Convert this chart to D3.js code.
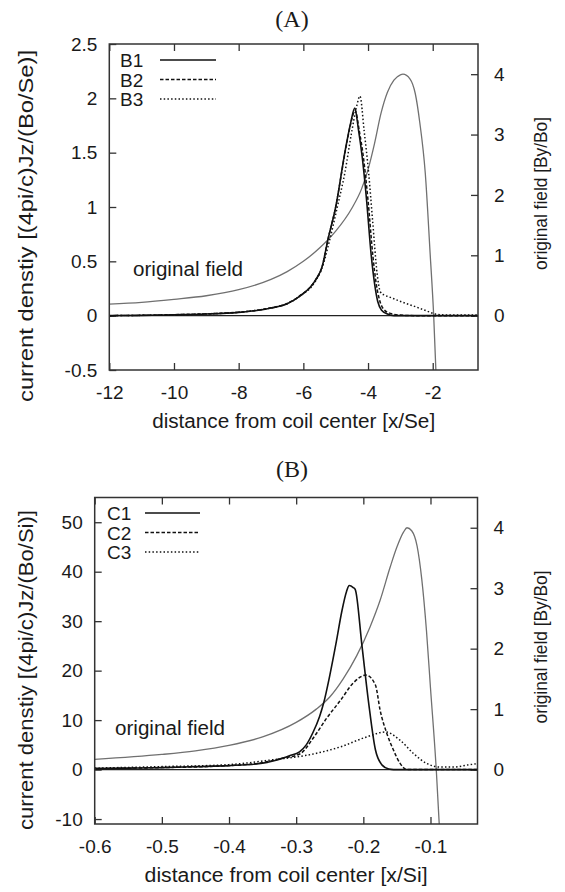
<!DOCTYPE html>
<html>
<head>
<meta charset="utf-8">
<script src="https://cdn.jsdelivr.net/npm/d3@7"></script>
<style>
  body { margin: 0; background: #fff; }
  text { font-family: "Liberation Sans", Arial, sans-serif; fill: #1a1a1a; }
  .title { font-family: "Liberation Serif", "Times New Roman", serif; }
</style>
</head>
<body>
<svg width="565" height="892"></svg>
<script>
'use strict';

// tick values
var xTicksA = [-12, -10, -8, -6, -4, -2],
    yTicksA = [-0.5, 0, 0.5, 1, 1.5, 2, 2.5],
    xTicksB = [-0.6, -0.5, -0.4, -0.3, -0.2, -0.1],
    yTicksB = [-10, 0, 10, 20, 30, 40, 50],
    y2Ticks = [0, 1, 2, 3, 4];

// panel A: original field [By/Bo] (right axis)
var fieldA = [[-12, 0.19], [-11, 0.22], [-10, 0.27], [-9, 0.33], [-8, 0.43], [-7, 0.6],
    [-6.5, 0.73], [-6, 0.9], [-5.5, 1.12], [-5, 1.4], [-4.5, 1.78], [-4.2, 2.1],
    [-4, 2.42], [-3.8, 2.85], [-3.6, 3.35], [-3.4, 3.7], [-3.2, 3.9], [-3.0, 3.99],
    [-2.92, 4.0], [-2.7, 3.92], [-2.54, 3.68], [-2.4, 3.2], [-2.23, 2.36], [-2.08, 1.03],
    [-1.97, 0], [-1.88, -1.2]];

// panel A: current density B1..B3
var b1 = [[-12, 0], [-11, 0.003], [-10, 0.008], [-9, 0.015], [-8, 0.03], [-7.5, 0.045],
    [-7, 0.07], [-6.5, 0.11], [-6.13, 0.175], [-5.62, 0.33], [-5.42, 0.45], [-5.24, 0.7],
    [-5, 1.0], [-4.7, 1.53], [-4.54, 1.77], [-4.41, 1.91], [-4.3, 1.72], [-4.18, 1.46],
    [-4.05, 1.08], [-3.9, 0.55], [-3.8, 0.3], [-3.7, 0.13], [-3.58, 0.05], [-3.4, 0.015],
    [-3.2, 0], [-0.6, 0]];
var b2 = [[-12, 0], [-11, 0.003], [-10, 0.009], [-9, 0.017], [-8, 0.032], [-7.5, 0.047],
    [-7, 0.072], [-6.5, 0.112], [-6.13, 0.178], [-5.62, 0.33], [-5.42, 0.45], [-5.24, 0.7],
    [-5, 1.0], [-4.7, 1.52], [-4.54, 1.76], [-4.4, 1.89], [-4.27, 1.7], [-4.14, 1.45],
    [-4.0, 1.06], [-3.85, 0.55], [-3.75, 0.3], [-3.64, 0.14], [-3.52, 0.06], [-3.3, 0.02],
    [-3.0, 0.005], [-2.5, 0], [-0.6, 0]];
var b3 = [[-12, 0], [-11, 0.003], [-10, 0.008], [-9, 0.016], [-8, 0.032], [-7, 0.072],
    [-6.5, 0.11], [-6.13, 0.175], [-5.62, 0.32], [-5.42, 0.44], [-5.2, 0.68], [-4.95, 1.0],
    [-4.72, 1.31], [-4.5, 1.7], [-4.35, 1.93], [-4.25, 2.02], [-4.12, 1.7], [-3.98, 1.31],
    [-3.86, 0.88], [-3.72, 0.39], [-3.62, 0.22], [-3.5, 0.19], [-3.37, 0.175], [-2.85, 0.115],
    [-2.54, 0.083], [-2.2, 0.045], [-1.92, 0.015], [-1.5, 0.005], [-0.6, 0.005]];

// panel B: original field [By/Bo] (right axis)
var fieldB = [[-0.6, 0.17], [-0.5, 0.25], [-0.45, 0.31], [-0.4, 0.4], [-0.35, 0.54],
    [-0.3, 0.78], [-0.27, 1.0], [-0.25, 1.2], [-0.23, 1.5], [-0.21, 1.88], [-0.19, 2.36],
    [-0.175, 2.8], [-0.16, 3.35], [-0.15, 3.68], [-0.14, 3.93], [-0.135, 4.0], [-0.128, 3.95],
    [-0.12, 3.7], [-0.113, 3.15], [-0.106, 2.3], [-0.1, 1.35], [-0.0914, 0], [-0.086, -1.1]];

// panel B: current density C1..C3
var c1 = [[-0.6, 0.2], [-0.55, 0.3], [-0.5, 0.4], [-0.45, 0.6], [-0.4, 0.8], [-0.35, 1.3],
    [-0.33, 1.9], [-0.31, 2.8], [-0.295, 3.6], [-0.285, 5.0], [-0.275, 7.5], [-0.265, 10.8],
    [-0.259, 13.5], [-0.25, 19], [-0.24, 26], [-0.232, 32], [-0.225, 36], [-0.221, 37.2],
    [-0.215, 36.8], [-0.212, 36.4], [-0.202, 25], [-0.192, 13.4], [-0.182, 4], [-0.172, 0.9],
    [-0.162, 0.1], [-0.155, 0], [-0.03, 0]];
var c2 = [[-0.6, 0.2], [-0.5, 0.4], [-0.4, 0.8], [-0.35, 1.4], [-0.32, 2.3], [-0.294, 3.2],
    [-0.274, 6.5], [-0.254, 10.5], [-0.234, 14], [-0.215, 17.5], [-0.196, 19.1],
    [-0.182, 17.1], [-0.175, 12.0], [-0.165, 7.3], [-0.155, 3.9], [-0.145, 1.2],
    [-0.135, 0], [-0.03, 0]];
var c3 = [[-0.6, 0.3], [-0.5, 0.6], [-0.4, 1.0], [-0.334, 2.0], [-0.284, 2.9], [-0.234, 4.6],
    [-0.195, 6.6], [-0.167, 7.6], [-0.145, 5.9], [-0.125, 3.2], [-0.105, 1.2], [-0.085, 0.5],
    [-0.065, 0.5], [-0.046, 0.9], [-0.03, 1.2]];

var svg = d3.select('svg');

var panels = [
    {
        id: 'A', title: '(A)', titleY: 27,
        left: 109.3, right: 478, top: 44, bottom: 370,
        xDomain: [-12, -0.6], yDomain: [-0.5, 2.5], y2Domain: [-0.9, 4.5],
        xTicks: xTicksA, yTicks: yTicksA,
        field: fieldA, curves: [b1, b2, b3], names: ['B1', 'B2', 'B3'],
        legendX: 120, legendLine: [160, 216], legendY: 60,
        fieldLabel: [133, 276],
        xLabel: 'distance from coil center [x/Se]',
        yLabel: 'current denstiy [(4pi/c)Jz/(Bo/Se)]', yLabelY: 226, yLabelLen: 352,
        y2LabelY: 193.5
    },
    {
        id: 'B', title: '(B)', titleY: 477,
        left: 94.7, right: 477.5, top: 497.5, bottom: 824,
        xDomain: [-0.6, -0.03], yDomain: [-11, 55], y2Domain: [-0.9, 4.5],
        xTicks: xTicksB, yTicks: yTicksB,
        field: fieldB, curves: [c1, c2, c3], names: ['C1', 'C2', 'C3'],
        legendX: 107, legendLine: [145, 200], legendY: 513,
        fieldLabel: [115, 735],
        xLabel: 'distance from coil center [x/Si]',
        yLabel: 'current denstiy [(4pi/c)Jz/(Bo/Si)]', yLabelY: 670, yLabelLen: 320,
        y2LabelY: 647
    }
];

var dashes = [null, '3.5,2', '1.5,2.2'];

panels.forEach(function (p) {
    var x = d3.scaleLinear().domain(p.xDomain).range([p.left, p.right]),
        y = d3.scaleLinear().domain(p.yDomain).range([p.bottom, p.top]),
        y2 = d3.scaleLinear().domain(p.y2Domain).range([p.bottom, p.top]),
        g = svg.append('g').attr('class', 'panel' + p.id);

    // clip for curves
    g.append('clipPath').attr('id', 'clip' + p.id)
        .append('rect')
        .attr('x', p.left).attr('y', p.top)
        .attr('width', p.right - p.left).attr('height', p.bottom - p.top);

    // axes
    var fmt = function (d) { return String(d); };
    var bottom = g.append('g').attr('transform', 'translate(0,' + p.bottom + ')')
        .call(d3.axisBottom(x).tickValues(p.xTicks).tickFormat(fmt).tickSizeInner(-7).tickSizeOuter(0).tickPadding(16));
    var top = g.append('g').attr('transform', 'translate(0,' + p.top + ')')
        .call(d3.axisTop(x).tickValues(p.xTicks).tickFormat('').tickSizeInner(-7).tickSizeOuter(0));
    var left = g.append('g').attr('transform', 'translate(' + p.left + ',0)')
        .call(d3.axisLeft(y).tickValues(p.yTicks).tickFormat(fmt).tickSizeInner(-7).tickSizeOuter(0).tickPadding(12));
    var right = g.append('g').attr('transform', 'translate(' + p.right + ',0)')
        .call(d3.axisRight(y2).tickValues(y2Ticks).tickFormat(fmt).tickSizeInner(-7).tickSizeOuter(0).tickPadding(16));

    [bottom, top, left, right].forEach(function (a) {
        a.select('.domain').remove();
        a.selectAll('.tick line').attr('stroke', '#333').attr('stroke-width', 1.3);
        a.selectAll('.tick text').attr('font-size', 19).attr('fill', '#1a1a1a')
            .style('font-family', '"Liberation Sans", Arial, sans-serif');
    });

    // zero line
    g.append('line')
        .attr('x1', p.left).attr('x2', p.right)
        .attr('y1', y(0)).attr('y2', y(0))
        .attr('stroke', '#222').attr('stroke-width', 1.4);

    var lineX = function (d) { return x(d[0]); };
    var plot = g.append('g').attr('clip-path', 'url(#clip' + p.id + ')');

    // original field
    plot.append('path')
        .datum(p.field)
        .attr('d', d3.line().x(lineX).y(function (d) { return y2(d[1]); }).curve(d3.curveMonotoneX))
        .attr('fill', 'none').attr('stroke', '#707070').attr('stroke-width', 1.3);

    // current density curves
    p.curves.forEach(function (c, i) {
        plot.append('path')
            .datum(c)
            .attr('d', d3.line().x(lineX).y(function (d) { return y(d[1]); }).curve(d3.curveMonotoneX))
            .attr('fill', 'none').attr('stroke', '#111')
            .attr('stroke-width', i === 0 ? 1.6 : 1.5)
            .attr('stroke-dasharray', dashes[i]);
    });

    // frame
    g.append('rect')
        .attr('x', p.left).attr('y', p.top)
        .attr('width', p.right - p.left).attr('height', p.bottom - p.top)
        .attr('fill', 'none').attr('stroke', '#333').attr('stroke-width', 1.5);

    // legend
    p.names.forEach(function (name, i) {
        var ly = p.legendY + i * 19.5;
        g.append('text')
            .attr('x', p.legendX).attr('y', ly + 7)
            .attr('font-size', 19)
            .text(name);
        g.append('line')
            .attr('x1', p.legendLine[0]).attr('x2', p.legendLine[1])
            .attr('y1', ly).attr('y2', ly)
            .attr('stroke', '#111').attr('stroke-width', 1.5)
            .attr('stroke-dasharray', dashes[i]);
    });

    // labels
    g.append('text')
        .attr('x', p.fieldLabel[0]).attr('y', p.fieldLabel[1])
        .attr('font-size', 20).attr('textLength', 110).attr('lengthAdjust', 'spacingAndGlyphs')
        .text('original field');

    g.append('text')
        .attr('class', 'title')
        .attr('x', 292).attr('y', p.titleY)
        .attr('text-anchor', 'middle').attr('font-size', 24)
        .text(p.title);

    g.append('text')
        .attr('x', (p.left + p.right) / 2).attr('y', p.bottom + 58)
        .attr('text-anchor', 'middle').attr('font-size', 20)
        .attr('textLength', 283).attr('lengthAdjust', 'spacingAndGlyphs')
        .text(p.xLabel);

    g.append('text')
        .attr('transform', 'translate(33,' + p.yLabelY + ') rotate(-90)')
        .attr('text-anchor', 'middle').attr('font-size', 21)
        .attr('textLength', p.yLabelLen).attr('lengthAdjust', 'spacingAndGlyphs')
        .text(p.yLabel);

    g.append('text')
        .attr('transform', 'translate(547,' + p.y2LabelY + ') rotate(-90)')
        .attr('text-anchor', 'middle').attr('font-size', 19)
        .attr('textLength', 153).attr('lengthAdjust', 'spacingAndGlyphs')
        .text('original field [By/Bo]');
});
</script>
</body>
</html>
